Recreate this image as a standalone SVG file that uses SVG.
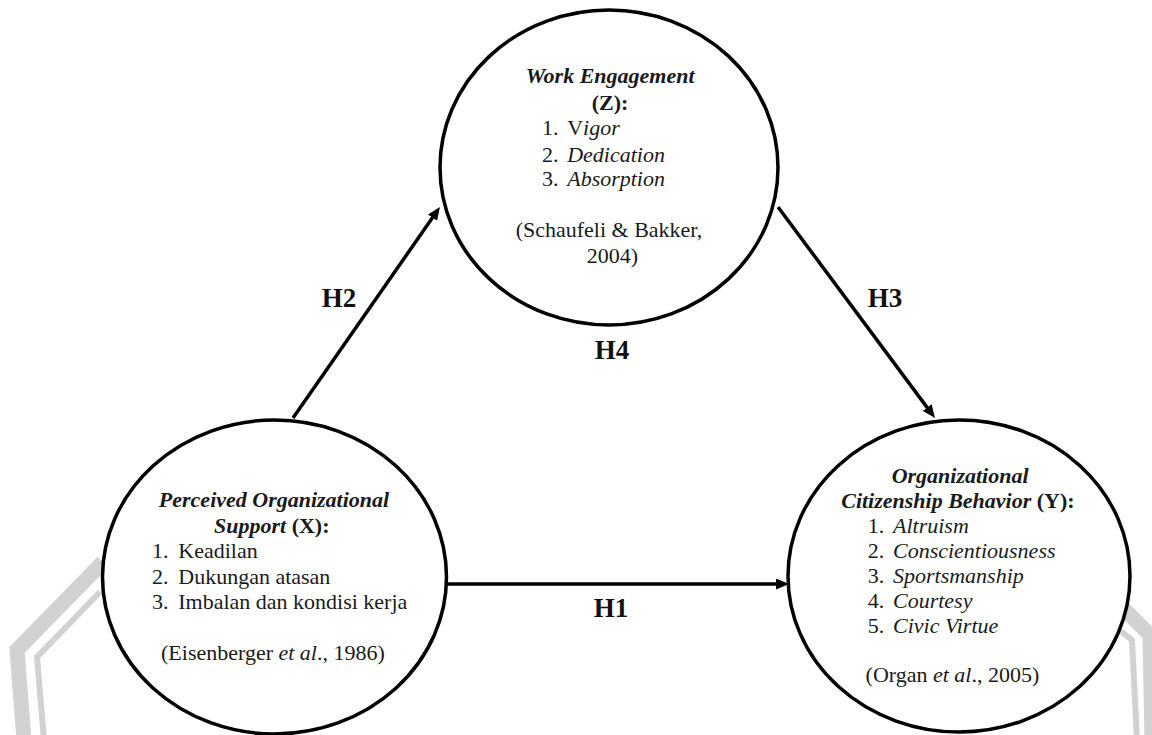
<svg xmlns="http://www.w3.org/2000/svg" width="1152" height="735" viewBox="0 0 1152 735">
<style>
  .bg { fill: #ffffff; }
  .wm { fill: none; stroke: #d2d2d2; stroke-linejoin: miter; }
  .node { fill: #ffffff; stroke: #000000; stroke-width: 3.5; }
  .conn { stroke: #000000; stroke-width: 3.5; fill: none; }
  text { font-family: "Liberation Serif", "Times New Roman", serif; fill: #1a1a1a; font-size: 20px; }
  .c { text-anchor: middle; }
  .b { font-weight: bold; }
  .i { font-style: italic; }
  .bi { font-weight: bold; font-style: italic; }
  .h { font-weight: bold; font-size: 27px; text-anchor: middle; fill: #111; }
</style>
<defs>
  <marker id="arrow" viewBox="0 0 13 11" refX="1" refY="5.5" markerWidth="13" markerHeight="11" markerUnits="userSpaceOnUse" orient="auto">
    <path d="M0,0 L13,5.5 L0,11 z" fill="#000"/>
  </marker>
</defs>
<rect class="bg" x="0" y="0" width="1152" height="735"/>

<g id="watermark">
  <polyline class="wm" stroke-width="15" points="103,562 17,650 24,740"/>
  <polyline class="wm" stroke-width="6" points="100,592 37,657 44,740"/>
  <polyline class="wm" stroke-width="15" points="1080,565 1150,635 1152,740"/>
  <polyline class="wm" stroke-width="6" points="1075,595 1132,640 1137,740"/>
</g>

<g id="connectors">
  <line class="conn" x1="293" y1="418" x2="433.1" y2="216.8" marker-end="url(#arrow)"/>
  <line class="conn" x1="778" y1="207" x2="927.8" y2="408.4" marker-end="url(#arrow)"/>
  <line class="conn" x1="447" y1="584" x2="777" y2="584" marker-end="url(#arrow)"/>
  <text class="h" x="339" y="307">H2</text>
  <text class="h" x="885" y="307">H3</text>
  <text class="h" x="612" y="359">H4</text>
  <text class="h" x="611" y="617">H1</text>
</g>

<g id="node-z">
  <ellipse class="node" cx="609" cy="167.5" rx="169" ry="157.5"/>
  <g transform="translate(609,0) scale(1.1,1)">
    <text class="c bi" x="1" y="83">Work Engagement</text>
    <text class="c b" x="1" y="110">(Z):</text>
    <text x="-61" y="135">1.</text><text x="-38" y="135">V<tspan class="i">igor</tspan></text>
    <text x="-61" y="162">2.</text><text class="i" x="-38" y="162">Dedication</text>
    <text x="-61" y="186">3.</text><text class="i" x="-38" y="186">Absorption</text>
    <text class="c" x="0" y="237">(Schaufeli &amp; Bakker,</text>
    <text class="c" x="3" y="263">2004)</text>
  </g>
</g>

<g id="node-x">
  <ellipse class="node" cx="274.5" cy="577" rx="172" ry="157"/>
  <g transform="translate(274,0) scale(1.1,1)">
    <text class="c bi" x="0" y="507">Perceived Organizational</text>
    <text class="c b" x="-2" y="533"><tspan class="i">Support</tspan> (X):</text>
    <text x="-111" y="558">1.</text><text x="-87" y="558">Keadilan</text>
    <text x="-111" y="584">2.</text><text x="-87" y="584">Dukungan atasan</text>
    <text x="-111" y="609">3.</text><text x="-87" y="609">Imbalan dan kondisi kerja</text>
    <text class="c" x="-1" y="660">(Eisenberger <tspan class="i">et al</tspan>., 1986)</text>
  </g>
</g>

<g id="node-y">
  <ellipse class="node" cx="959" cy="576" rx="171" ry="156"/>
  <g transform="translate(959,0) scale(1.1,1)">
    <text class="c bi" x="1" y="483">Organizational</text>
    <text class="c b" x="-1" y="508"><tspan class="i">Citizenship Behavior</tspan> (Y):</text>
    <text x="-83" y="533">1.</text><text class="i" x="-60" y="533">Altruism</text>
    <text x="-83" y="558">2.</text><text class="i" x="-60" y="558">Conscientiousness</text>
    <text x="-83" y="583">3.</text><text class="i" x="-60" y="583">Sportsmanship</text>
    <text x="-83" y="608">4.</text><text class="i" x="-60" y="608">Courtesy</text>
    <text x="-83" y="633">5.</text><text class="i" x="-60" y="633">Civic Virtue</text>
    <text class="c" x="-6" y="682">(Organ <tspan class="i">et al</tspan>., 2005)</text>
  </g>
</g>
</svg>
